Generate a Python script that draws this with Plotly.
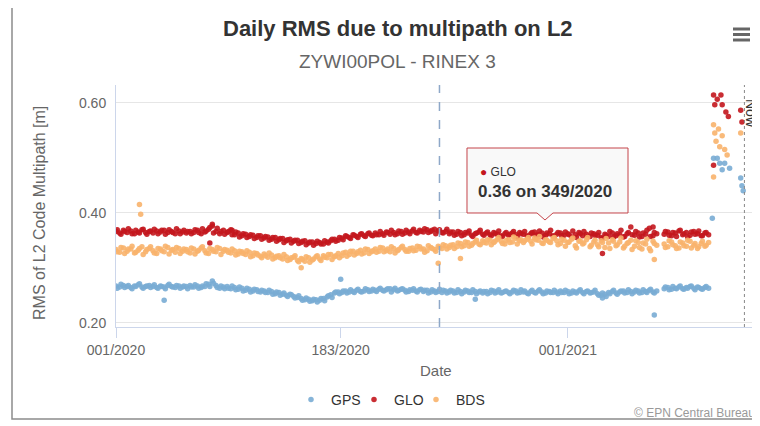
import plotly.graph_objects as go

# ---------------- data (values in millimetres, converted to metres) ----------------
days_a = list(range(0, 439, 3))      # day index since 001/2020
days_b = list(range(1, 439, 3))
seg2_days_a = list(range(444, 481, 3))
seg2_days_b = list(range(445, 481, 3))

gps_a = [
    267, 265, 268, 266, 264, 267, 269, 265, 266, 268,
    266, 264, 267, 265, 268, 266, 264, 267, 265, 266,
    268, 265, 267, 264, 266, 270, 276, 268, 263, 265,
    266, 262, 264, 261, 263, 259, 261, 258, 260, 256,
    258, 255, 257, 253, 255, 252, 250, 252, 248, 246,
    244, 242, 243, 240, 242, 241, 244, 247, 251, 254,
    256, 255, 258, 256, 257, 259, 257, 258, 260, 258,
    259, 261, 259, 260, 262, 260, 258, 261, 259, 257,
    259, 258, 260, 257, 259, 256, 258, 257, 255, 258,
    256, 258, 255, 257, 256, 258, 255, 257, 256, 254,
    257, 255, 258, 256, 254, 257, 255, 256, 258, 255,
    256, 254, 257, 255, 258, 256, 254, 257, 255, 256,
    258, 255, 257, 254, 256, 258, 255, 257, 254, 256,
    253, 250, 252, 255, 257, 254, 256, 258, 255, 257,
    256, 258, 255, 257, 259, 256, 258]
gps_b = [
    263, 270, 264, 268, 262, 266, 271, 263, 267, 264,
    269, 263, 266, 262, 270, 265, 268, 263, 267, 262,
    265, 269, 263, 267, 271, 266, 272, 264, 267, 262,
    263, 267, 260, 265, 258, 263, 256, 261, 257, 259,
    255, 259, 252, 256, 250, 254, 248, 251, 245, 249,
    241, 245, 239, 243, 238, 244, 240, 249, 246, 256,
    253, 258, 254, 260, 255, 261, 256, 262, 257, 261,
    257, 263, 258, 262, 256, 263, 259, 262, 256, 260,
    262, 256, 261, 259, 254, 260, 255, 261, 259, 254,
    259, 254, 260, 253, 259, 255, 260, 253, 258, 257,
    253, 259, 254, 260, 255, 258, 253, 259, 254, 260,
    258, 253, 259, 254, 260, 253, 258, 255, 259, 253,
    255, 259, 253, 258, 254, 260, 253, 258, 255, 259,
    250, 254, 248, 253, 259, 252, 258, 254, 260, 253,
    259, 254, 260, 255, 261, 254]
gps_seg2_a = [262, 264, 261, 263, 265, 262, 264, 266, 263, 265, 262, 264, 263]
gps_seg2_b = [265, 260, 266, 262, 267, 261, 263, 267, 260, 264, 261, 266]
gps_extra_days = [39, 182, 291, 394, 436, 483]
gps_extra = [241, 279, 243, 245, 214, 390]
gps_high_days = [484, 487, 489, 493, 497, 491, 506, 507, 508]
gps_high = [499, 499, 490, 490, 481, 478, 463, 449, 440]

glo_a = [
    366, 363, 368, 364, 367, 362, 365, 369, 364, 366,
    363, 367, 365, 368, 364, 366, 362, 367, 365, 363,
    366, 364, 368, 362, 365, 370, 376, 366, 362, 368,
    364, 369, 360, 363, 358, 361, 357, 359, 355, 358,
    354, 356, 352, 355, 351, 353, 349, 352, 348, 350,
    346, 349, 345, 347, 344, 346, 343, 347, 349, 352,
    350, 354, 358, 355, 360, 357, 361, 358, 362, 359,
    363, 360, 362, 365, 361, 364, 362, 366, 363, 365,
    367, 364, 368, 365, 369, 366, 370, 367, 364, 366,
    362, 365, 361, 364, 360, 363, 359, 362, 365, 361,
    363, 360, 364, 361, 358, 362, 359, 363, 360, 364,
    361, 358, 362, 365, 360, 363, 359, 362, 358, 361,
    363, 359, 362, 356, 360, 364, 358, 361, 357, 362,
    359, 355, 361, 357, 363, 358, 360, 356, 362, 374,
    359, 363, 357, 361, 372, 358, 362]
glo_b = [
    369, 361, 366, 371, 362, 368, 363, 370, 361, 367,
    370, 362, 368, 361, 369, 364, 371, 362, 368, 366,
    362, 369, 364, 371, 367, 373, 363, 372, 366, 361,
    366, 360, 365, 356, 362, 355, 360, 353, 358, 352,
    357, 350, 355, 348, 353, 346, 351, 345, 350, 344,
    348, 342, 347, 341, 348, 343, 349, 345, 352, 348,
    355, 351, 357, 353, 359, 355, 362, 357, 363, 358,
    360, 366, 359, 364, 368, 360, 367, 361, 368, 362,
    370, 363, 366, 371, 364, 368, 362, 369, 363, 370,
    365, 359, 366, 358, 364, 367, 357, 363, 368, 359,
    365, 358, 362, 367, 357, 364, 361, 366, 356, 362,
    366, 357, 364, 359, 367, 356, 363, 368, 357, 364,
    358, 365, 360, 367, 355, 362, 366, 357, 363, 359,
    364, 353, 359, 366, 356, 362, 368, 357, 364, 360,
    366, 356, 363, 368, 357, 364]
glo_seg2_a = [361, 365, 358, 363, 367, 360, 364, 359, 366, 362, 358, 363, 360]
glo_seg2_b = [366, 359, 364, 357, 368, 362, 356, 365, 361, 367, 358, 364]
glo_extra_days = [76, 78, 94, 394, 435]
glo_extra = [345, 379, 368, 326, 374]
glo_high_days = [484, 485, 487, 490, 491, 494, 496, 506, 507, 484]
glo_high = [614, 596, 606, 614, 596, 583, 575, 586, 565, 486]

bds_a = [
    333, 328, 336, 330, 334, 327, 332, 338, 329, 335,
    331, 326, 334, 329, 337, 332, 328, 335, 330, 333,
    327, 334, 330, 336, 331, 326, 333, 329, 335, 330,
    332, 327, 331, 325, 329, 324, 328, 322, 326, 321,
    325, 319, 323, 318, 322, 316, 320, 315, 319, 313,
    317, 312, 318, 314, 320, 316, 322, 318, 324, 320,
    326, 322, 328, 324, 330, 326, 332, 327, 333, 329,
    334, 330, 336, 331, 329, 335, 331, 337, 333, 330,
    336, 332, 338, 334, 331, 337, 333, 339, 335, 340,
    337, 342, 338, 344, 340, 346, 341, 347, 343, 349,
    345, 350, 346, 352, 348, 343, 351, 347, 353, 349,
    346, 352, 348, 354, 350, 345, 351, 347, 353, 349,
    344, 350, 346, 352, 340, 348, 343, 351, 338, 347,
    342, 349, 337, 345, 351, 340, 347, 336, 344, 350,
    339, 346, 334, 343, 335, 348, 341]
bds_b = [
    329, 337, 326, 334, 339, 328, 335, 324, 333, 338,
    327, 335, 331, 339, 325, 333, 337, 326, 334, 329,
    336, 325, 332, 338, 327, 335, 330, 337, 324, 333,
    328, 334, 323, 330, 326, 331, 320, 327, 323, 318,
    322, 327, 316, 321, 318, 324, 313, 318, 322, 311,
    315, 320, 310, 316, 322, 313, 319, 324, 315, 322,
    318, 327, 321, 330, 323, 329, 325, 334, 326, 331,
    328, 337, 329, 334, 338, 327, 333, 339, 330, 335,
    331, 339, 334, 328, 340, 335, 330, 337, 342, 334,
    341, 335, 345, 338, 347, 339, 344, 350, 342, 346,
    351, 342, 348, 355, 344, 350, 346, 356, 343, 351,
    349, 355, 343, 351, 357, 344, 350, 346, 355, 342,
    352, 339, 347, 354, 336, 349, 345, 355, 341, 350,
    338, 346, 353, 335, 348, 342, 354, 339, 346, 333,
    349, 337, 345, 352, 331, 344]
bds_seg2_a = [343, 338, 347, 340, 336, 345, 339, 348, 341, 335, 344, 339, 346]
bds_seg2_b = [337, 349, 342, 335, 347, 340, 350, 336, 344, 338, 348, 341]
bds_extra_days = [19, 20, 150, 261, 279, 436]
bds_extra = [415, 397, 300, 308, 317, 315]
bds_high_days = [484, 485, 486, 488, 489, 491, 493, 495, 484, 506]
bds_high = [560, 545, 530, 552, 520, 540, 515, 505, 465, 545]

tick_days = [0, 182, 366]
tick_labels = ["001/2020", "183/2020", "001/2021"]
y_ticks = [0.20, 0.40, 0.60]
y_tick_labels = ["0.20", "0.40", "0.60"]
marker_day = 262      # dashed reference line
now_day = 509         # "Now" line

all_days = days_a + days_b + seg2_days_a + seg2_days_b
series = [
    ("GPS", "#79acd4", all_days + gps_extra_days + gps_high_days,
     gps_a + gps_b + gps_seg2_a + gps_seg2_b + gps_extra + gps_high),
    ("GLO", "#c3161d", all_days + glo_extra_days + glo_high_days,
     glo_a + glo_b + glo_seg2_a + glo_seg2_b + glo_extra + glo_high),
    ("BDS", "#f8b26c", all_days + bds_extra_days + bds_high_days,
     bds_a + bds_b + bds_seg2_a + bds_seg2_b + bds_extra + bds_high),
]
legend_dot_x = [311, 374, 436]    # legend symbol positions (px)

# ---------------- figure ----------------
OFF = 8                      # page body margin
W, H = 760 - OFF, 426 - OFF
def px(x):
    return (x - OFF) / W
def py(y):
    return 1 - (y - OFF) / H

FONT = "Liberation Sans, Arial, sans-serif"
fig = go.Figure()
legend_keys = ["legend", "legend2", "legend3"]
for (name, color, days, vals), lg in zip(series, legend_keys):
    fig.add_trace(go.Scatter(
        x=days, y=[v / 1000 for v in vals], mode="markers", name=name, legend=lg,
        marker=dict(size=5.5, color=color, opacity=0.9, line=dict(width=0)),
        hoverinfo="skip"))

L, R, T, B = 116, 752, 85, 327
fig.update_layout(
    width=W, height=H, margin=dict(l=0, r=0, t=0, b=0, pad=0, autoexpand=False),
    paper_bgcolor="white", plot_bgcolor="white",
    font=dict(family=FONT, color="#666666", size=14),
    showlegend=True,
    xaxis=dict(domain=[px(L), px(R)], range=[0, (R - L) / 1.2346], automargin=False,
               tickvals=tick_days, ticktext=tick_labels, showgrid=False, zeroline=False,
               showline=True, linecolor="#ccd6eb", linewidth=1,
               ticks="outside", ticklen=10, tickcolor="#ccd6eb",
               tickfont=dict(size=14, color="#666666")),
    yaxis=dict(domain=[py(B), py(T)], range=[0.1924, 0.632], automargin=False,
               tickvals=y_ticks, ticktext=y_tick_labels, showgrid=True, gridcolor="#e6e6e6",
               zeroline=False, showline=True, linecolor="#ccd6eb", linewidth=1,
               ticks="", tickfont=dict(size=14, color="#666666"), ticklabelstandoff=6),
)
for lg, dx in zip(legend_keys, legend_dot_x):
    fig.update_layout({lg: dict(orientation="h", x=px(dx - 20), xanchor="left",
                                y=py(400), yanchor="middle", itemwidth=30,
                                font=dict(size=14, color="#333333"),
                                bgcolor="rgba(0,0,0,0)", borderwidth=0)})

shapes = []
# outer frame
shapes.append(dict(type="rect", xref="paper", yref="paper", x0=px(12), x1=px(775),
                   y0=py(419), y1=py(5), line=dict(color="#8c8c8c", width=1.5)))
# hamburger icon
for yy in (29, 34.5, 40):
    shapes.append(dict(type="line", xref="paper", yref="paper", x0=px(733), x1=px(750),
                       y0=py(yy), y1=py(yy), line=dict(color="#666666", width=3)))
# dashed marker line and "Now" line
shapes.append(dict(type="line", xref="x", yref="paper", x0=marker_day, x1=marker_day,
                   y0=py(B), y1=py(T), line=dict(color="#8ea8c8", width=1.5, dash="dash")))
shapes.append(dict(type="line", xref="x", yref="paper", x0=now_day, x1=now_day,
                   y0=py(B), y1=py(T), line=dict(color="#888888", width=1, dash="dot")))
# tooltip callout
pts = [(467, 148), (628, 148), (628, 213), (553, 213), (545, 220), (537, 213), (467, 213)]
path = "M " + " L ".join(f"{px(a):.5f},{py(b):.5f}" for a, b in pts) + " Z"
shapes.append(dict(type="path", xref="paper", yref="paper", path=path,
                   fillcolor="rgba(248,248,248,0.92)", line=dict(color="#c4444a", width=1)))
fig.update_layout(shapes=shapes)

ann = [
    dict(text="<b>Daily RMS due to multipath on L2</b>", x=px(398), y=py(28),
         font=dict(size=22, color="#333333")),
    dict(text="ZYWI00POL - RINEX 3", x=px(397), y=py(61),
         font=dict(size=19, color="#666666")),
    dict(text="RMS of L2 Code Multipath [m]", x=px(40), y=py(213), textangle=-90,
         font=dict(size=16, color="#666666")),
    dict(text="Date", x=px(436), y=py(370), font=dict(size=15, color="#666666")),
    dict(text="© EPN Central Bureau", x=px(757), y=py(413), xanchor="right",
         font=dict(size=12, color="#999999")),
    dict(text="Now", x=px(751), y=py(113), textangle=90,
         font=dict(size=14, color="#333333")),
    dict(text="<span style='color:#c3161d'>●</span> GLO", x=px(478), y=py(172),
         xanchor="left", font=dict(size=12, color="#333333")),
    dict(text="<b>0.36 on 349/2020</b>", x=px(476), y=py(191), xanchor="left",
         font=dict(size=17, color="#333333")),
]
for a in ann:
    a.update(xref="paper", yref="paper", showarrow=False)
    a.setdefault("xanchor", "center")
    a.setdefault("yanchor", "middle")
    fig.add_annotation(**a)

fig.write_html("out.html")
